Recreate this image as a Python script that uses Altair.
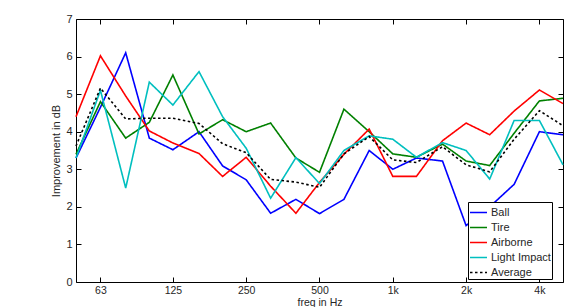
import altair as alt
import pandas as pd

# One-third octave band centre frequencies (Hz)
freqs = [50, 63, 80, 100, 125, 160, 200, 250, 315, 400, 500, 630, 800,
         1000, 1250, 1600, 2000, 2500, 3150, 4000, 5000]

# Improvement in dB per source type
ball = [3.3, 4.65, 6.1, 3.83, 3.52, 4.0, 3.09, 2.72, 1.83, 2.2, 1.82, 2.2,
        3.5, 3.0, 3.3, 3.22, 1.5, 2.0, 2.6, 4.0, 3.92]
tire = [3.4, 4.8, 3.83, 4.25, 5.51, 3.94, 4.32, 4.0, 4.23, 3.3, 2.92, 4.6,
        4.0, 3.41, 3.32, 3.67, 3.22, 3.1, 3.96, 4.82, 4.89]
airborne = [4.4, 6.02, 4.95, 4.02, 3.7, 3.42, 2.81, 3.32, 2.55, 1.83, 2.65,
            3.4, 4.07, 2.81, 2.81, 3.76, 4.23, 3.92, 4.55, 5.11, 4.75]
light_impact = [3.3, 5.1, 2.5, 5.32, 4.71, 5.6, 4.4, 3.56, 2.23, 3.31, 2.62,
                3.5, 3.89, 3.8, 3.32, 3.71, 3.5, 2.74, 4.3, 4.3, 3.12]
average = [3.62, 5.16, 4.34, 4.36, 4.36, 4.22, 3.68, 3.44, 2.73, 2.66, 2.52,
           3.41, 3.87, 3.25, 3.18, 3.6, 3.12, 2.93, 3.8, 4.56, 4.16]

series_names = ["Ball", "Tire", "Airborne", "Light Impact", "Average"]
series_values = [ball, tire, airborne, light_impact, average]
series_colors = ["#0000ff", "#008000", "#ff0000", "#00bfbf", "#000000"]
series_dash = [[1, 0], [1, 0], [1, 0], [1, 0], [2.5, 2.5]]
series_width = [1.6, 1.6, 1.6, 1.6, 2.9]

x_ticks = [63, 125, 250, 500, 1000, 2000, 4000]

rows = []
for name, vals in zip(series_names, series_values):
    for f, v in zip(freqs, vals):
        rows.append({"freq": f, "value": v, "series": name})
df = pd.DataFrame(rows)

W, H = 487, 263
FONT = "Liberation Sans"
TXT = "#262626"

x_scale = alt.Scale(type="log", domain=[50, 5000], nice=False, zero=False)
y_scale = alt.Scale(domain=[0, 7], nice=False, zero=True)

label_expr = ("datum.value >= 1000 ? (datum.value / 1000) + 'k' : "
              "datum.value")

lines = alt.Chart(df).mark_line(strokeJoin="miter").encode(
    x=alt.X("freq:Q", scale=x_scale,
            axis=alt.Axis(values=x_ticks, labelExpr=label_expr, ticks=False,
                          domain=False, grid=False, title="freq in Hz",
                          labelPadding=3.5, titlePadding=1,
                          labelFontSize=10.5, titleFontSize=10.5)),
    y=alt.Y("value:Q", scale=y_scale,
            axis=alt.Axis(values=list(range(8)), ticks=False, domain=False,
                          grid=False, title="Improvement in dB",
                          labelPadding=4, titlePadding=4)),
    color=alt.Color("series:N", sort=series_names,
                    scale=alt.Scale(domain=series_names, range=series_colors),
                    legend=alt.Legend(title=None)),
    strokeDash=alt.StrokeDash("series:N", sort=series_names,
                              scale=alt.Scale(domain=series_names,
                                              range=series_dash),
                              legend=alt.Legend(title=None)),
    strokeWidth=alt.StrokeWidth("series:N", sort=series_names,
                                scale=alt.Scale(domain=series_names,
                                                range=series_width),
                                legend=alt.Legend(title=None)),
    order=alt.Order("order:Q"),
).transform_calculate(
    order="indexof(%s, datum.series)" % str(series_names)
)

# Inward-pointing ticks on all four sides of the box
tick_base = alt.Chart(df).mark_point(opacity=0)

ticks_a = tick_base.encode(
    x=alt.X("freq:Q", scale=x_scale,
            axis=alt.Axis(orient="top", offset=-H, values=x_ticks,
                          labels=False, domain=False, grid=False, title=None,
                          tickSize=5, tickColor="black")),
    y=alt.Y("value:Q", scale=y_scale,
            axis=alt.Axis(orient="right", offset=-W, values=list(range(8)),
                          labels=False, domain=False, grid=False, title=None,
                          tickSize=5, tickColor="black")),
)
ticks_b = tick_base.encode(
    x=alt.X("freq:Q", scale=x_scale,
            axis=alt.Axis(orient="bottom", offset=-H, values=x_ticks,
                          labels=False, domain=False, grid=False, title=None,
                          tickSize=5, tickColor="black")),
    y=alt.Y("value:Q", scale=y_scale,
            axis=alt.Axis(orient="left", offset=-W, values=list(range(8)),
                          labels=False, domain=False, grid=False, title=None,
                          tickSize=5, tickColor="black")),
)

chart = alt.layer(lines, ticks_a, ticks_b).resolve_axis(
    x="independent", y="independent"
).properties(
    width=W, height=H,
    autosize=alt.AutoSizeParams(type="none"),
    padding={"left": 76, "top": 19, "right": 12, "bottom": 25},
).configure_view(
    stroke="black", strokeWidth=1
).configure_axis(
    labelFont=FONT, titleFont=FONT, labelFontSize=11, titleFontSize=11,
    labelColor=TXT, titleColor=TXT, titleFontWeight="normal",
).configure_legend(
    orient="none", legendX=392, legendY=183,
    strokeColor="black", fillColor="white", padding=1,
    symbolType="stroke", symbolSize=289, symbolStrokeWidth=2,
    labelFont=FONT, labelFontSize=11, labelColor=TXT, labelOffset=3,
    rowPadding=-0.5,
)

chart.save("out.html", embed_options={"renderer": "svg", "actions": False})
